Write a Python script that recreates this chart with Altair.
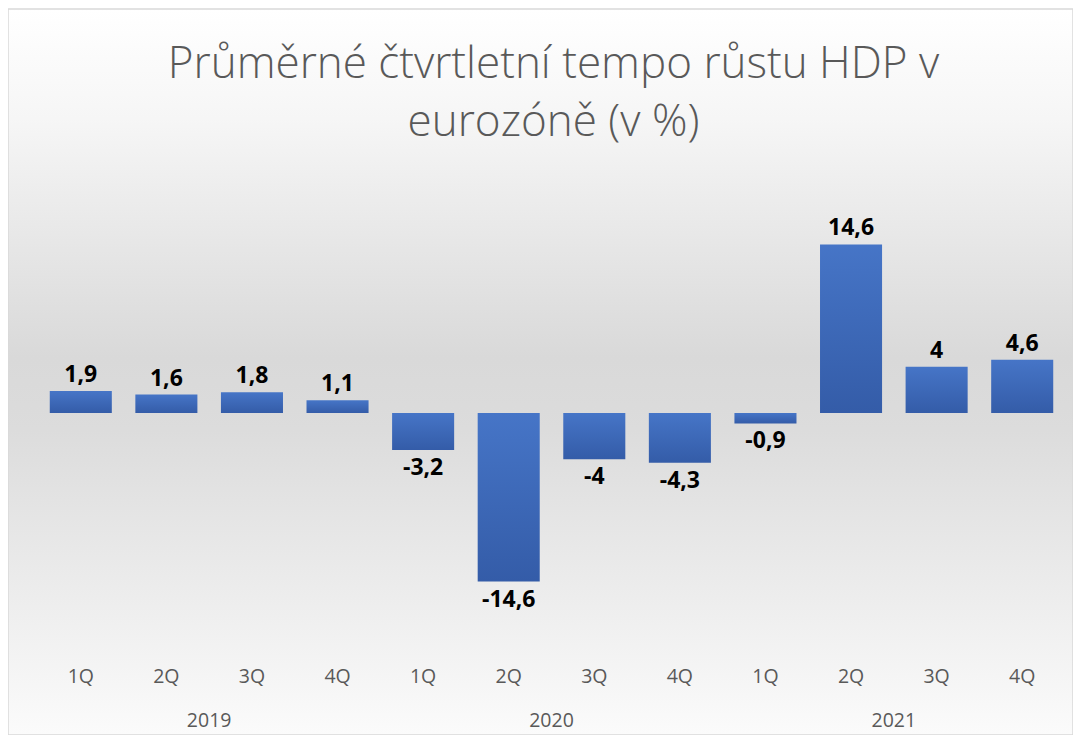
import altair as alt
import pandas as pd

# ---- data ----
years = ["2019", "2019", "2019", "2019", "2020", "2020", "2020", "2020",
         "2021", "2021", "2021", "2021"]
quarters = ["1Q", "2Q", "3Q", "4Q", "1Q", "2Q", "3Q", "4Q",
            "1Q", "2Q", "3Q", "4Q"]
values = [1.9, 1.6, 1.8, 1.1, -3.2, -14.6, -4, -4.3, -0.9, 14.6, 4, 4.6]
year_labels = ["2019", "2020", "2021"]
title_lines = ["Průměrné čtvrtletní tempo růstu HDP v", "eurozóně (v %)"]

df = pd.DataFrame({"year": years, "quarter": quarters, "v": values})
df["period"] = df["year"] + " " + df["quarter"]
order = list(df["period"])
ydf = pd.DataFrame({"year": year_labels})

W, H = 1065, 726
TXT = "#595959"
FONT = "Open Sans"

x_enc = alt.X(
    "period:N",
    sort=order,
    scale=alt.Scale(range=[30, 1057], paddingInner=0.275, paddingOuter=0.1375),
    axis=alt.Axis(
        title=None, domain=False, ticks=False, grid=False,
        labelExpr="split(datum.value, ' ')[1]",
        labelAngle=0, labelFont=FONT, labelFontSize=19.5, labelColor=TXT,
        labelBaseline="middle", labelPadding=0, offset=-59, zindex=1,
    ),
)
y_scale = alt.Scale(domain=[-27.88, 34.98], nice=False, zero=False)
y_enc = alt.Y("v:Q", scale=y_scale, axis=None)

bg = alt.Chart(alt.Data(values=[{"a": 1}])).mark_rect(
    fill=alt.Gradient(
        gradient="linear", x1=0, x2=0, y1=0, y2=1,
        stops=[
            alt.GradientStop(color="#ffffff", offset=0.0),
            alt.GradientStop(color="#f6f6f6", offset=0.15),
            alt.GradientStop(color="#d9d9d9", offset=0.48),
            alt.GradientStop(color="#dcdcdc", offset=0.58),
            alt.GradientStop(color="#fbfbfb", offset=1.0),
        ],
    ),
    stroke="#d9d9d9", strokeWidth=1.5,
).encode(x=alt.value(0), x2=alt.value(W), y=alt.value(0), y2=alt.value(H))

bars = alt.Chart(df).mark_bar(
    fill=alt.Gradient(
        gradient="linear", x1=0, x2=0, y1=0, y2=1,
        stops=[
            alt.GradientStop(color="#4675c7", offset=0.0),
            alt.GradientStop(color="#345ca8", offset=1.0),
        ],
    ),
).encode(x=x_enc, y=y_enc, y2=alt.datum(0))

lab_common = dict(font=FONT, fontSize=23, fontWeight="bold", color="#000000")
pos_labels = alt.Chart(df).transform_filter("datum.v >= 0").transform_calculate(
    lab="replace(toString(datum.v), '.', ',')"
).mark_text(baseline="bottom", dy=-4, **lab_common).encode(
    x=alt.X("period:N", sort=order), y=y_enc, text="lab:N")
neg_labels = alt.Chart(df).transform_filter("datum.v < 0").transform_calculate(
    lab="replace(toString(datum.v), '.', ',')"
).mark_text(baseline="top", dy=7, **lab_common).encode(
    x=alt.X("period:N", sort=order), y=y_enc, text="lab:N")

year_text = alt.Chart(ydf).mark_text(
    font=FONT, fontSize=19.5, color=TXT, baseline="middle"
).encode(
    x=alt.X("year:N", sort=year_labels, axis=None,
            scale=alt.Scale(range=[30, 1057], paddingInner=0, paddingOuter=0)),
    y=alt.value(712),
    text="year:N",
)

main = alt.layer(bars, pos_labels, neg_labels)

chart = alt.layer(bg, main, year_text).resolve_scale(x="independent").properties(
    width=W, height=H,
    autosize=alt.AutoSizeParams(type="none"),
    padding={"left": 0, "top": 1, "right": 0, "bottom": 0},
    title=alt.TitleParams(
        text=title_lines, font=FONT, fontSize=44, fontWeight=300, color=TXT,
        anchor="middle", frame="group", orient="top", baseline="alphabetic",
        lineHeight=58, offset=-172, dx=13, zindex=1,
    ),
).configure_view(stroke=None)

chart.save("out.html", embed_options={"renderer": "svg", "actions": False})
